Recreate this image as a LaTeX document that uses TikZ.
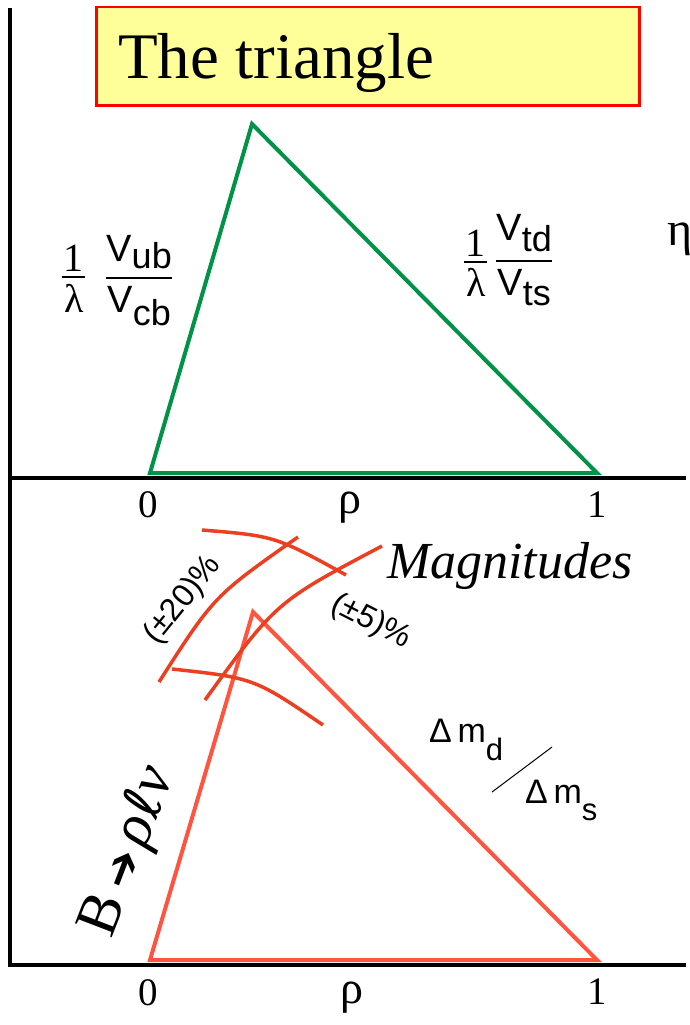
\documentclass[tikz,border=0pt]{standalone}
\usepackage{fontspec}
\setmainfont{Liberation Serif}
\setsansfont{Liberation Sans}
\newfontfamily\symfont{DejaVu Sans}
\definecolor{triGreen}{RGB}{0,146,70}
\definecolor{triRed}{RGB}{255,85,64}
\definecolor{arcRed}{RGB}{236,62,32}
\definecolor{titleYellow}{RGB}{255,255,153}
\newcommand{\fs}[1]{\fontsize{#1}{#1}\selectfont}
\newcommand{\lowsub}[2]{\raisebox{-#1pt}{#2}}
\begin{document}
\begin{tikzpicture}[x=1pt,y=-1pt,
    axis/.style={line width=4.5pt},
    side/.style={line width=4pt, line join=miter},
    band/.style={arcRed, line width=3.5pt},
    ticklbl/.style={font=\fs{39}, inner sep=0pt},
    rholbl/.style={font=\fs{46}, inner sep=0pt},
    fraclbl/.style={font=\fs{40}, inner sep=0pt},
    fracbar/.style={line width=2pt},
    sflbl/.style={font=\sffamily\fs{32}, inner sep=0pt}]
    \useasboundingbox (0,0) rectangle (690,1025);
    % Title box
    \node[draw=red, line width=2.5pt, fill=titleYellow, minimum width=543pt, minimum height=98pt, anchor=north west, inner sep=0pt] (title) at (95,6) {};
    \node[anchor=base west, font=\fs{65}, inner sep=0pt] (titletext) at (118,78) {The triangle};
    % Axes
    \coordinate (yTop) at (10,8);
    \coordinate (yBot) at (10,965);
    \coordinate (xTopL) at (8,478);
    \coordinate (xTopR) at (686,478);
    \coordinate (xBotL) at (8,965);
    \coordinate (xBotR) at (686,965);
    \draw[axis] (yTop) -- (yBot);
    \draw[axis] (xTopL) -- (xTopR);
    \draw[axis] (xBotL) -- (xBotR);
    % Upper triangle
    \coordinate (gO) at (150,473);
    \coordinate (gA) at (252,124);
    \coordinate (gE) at (597,473);
    \draw[side, triGreen] (gO) -- (gA) -- (gE) -- cycle;
    % 1/lambda factors
    \node[fraclbl, anchor=south] (oneL) at (73,272) {1};
    \node[fraclbl, anchor=north] (lamL) at (74,284) {λ};
    \draw[fracbar] (62,277) -- (85,277);
    \node[fraclbl, anchor=south] (oneR) at (475,257) {1};
    \node[fraclbl, anchor=north] (lamR) at (476,268) {λ};
    \draw[fracbar] (464,262) -- (487,262);
    \node[anchor=base west, inner sep=0pt] (vub) at (105,284)
      {\sffamily\fs{38}$\displaystyle{\mbox{V\lowsub{7}{\fs{36}ub}} \above 2.5pt \mbox{V\lowsub{13}{\fs{36}cb}}}$};
    \node[anchor=base west, inner sep=0pt] (vtd) at (495,267)
      {\sffamily\fs{38}$\displaystyle{\mbox{V\lowsub{11}{\fs{36}td}} \above 2.5pt \mbox{V\lowsub{10}{\fs{36}ts}}}$};
    \node[anchor=base west, font=\fs{48}, inner sep=0pt] (eta) at (667,245) {η};
    \node[ticklbl] (zeroTop) at (148,505) {0};
    \node[rholbl] (rhoTop) at (350,508) {ρ};
    \node[ticklbl] (oneTop) at (597,505) {1};
    % Lower triangle
    \coordinate (rO) at (150,960);
    \coordinate (rA) at (253,612);
    \coordinate (rE) at (597,960);
    \draw[side, triRed] (rO) -- (rA) -- (rE) -- cycle;
    % Error bands
    \draw[band] (202,530) .. controls (275,536) .. (346,575);
    \draw[band] (159,682) .. controls (214,596) .. (298,537);
    \draw[band] (205,700) .. controls (276,602) .. (382,546);
    \draw[band] (172,669) .. controls (254,678) .. (323,725);
    \node[sflbl, rotate=51] (pm20) at (183,600) {(±20)\%};
    \node[sflbl, rotate=-27] (pm5) at (371,622) {(±5)\%};
    \node[anchor=base west, font=\itshape\fs{52}, inner sep=0pt] (magn) at (387,578) {Magnitudes};
    \node[anchor=base west, font=\sffamily\fs{34}, inner sep=0pt] (dmd) at (429,742) {Δ\,m\lowsub{18}{\fs{31}d}};
    \node[anchor=base west, font=\sffamily\fs{34}, inner sep=0pt] (dms) at (525,803) {Δ\,m\lowsub{17}{\fs{31}s}};
    \coordinate (slashL) at (492,792);
    \coordinate (slashR) at (552,747);
    \draw[line width=1pt] (slashL) -- (slashR);
    \node[font=\fs{60}, rotate=69, inner sep=0pt] (brho) at (130,852) {\upshape B\hspace{10pt}{\symfont\fs{46}➔}\hspace{8pt}{\itshape ρ}\hspace{2pt}{\symfont\fs{54}ℓ}{\itshape ν}};
    \node[ticklbl] (zeroBot) at (148,993) {0};
    \node[rholbl] (rhoBot) at (352,998) {ρ};
    \node[ticklbl] (oneBot) at (597,992) {1};
\end{tikzpicture}
\end{document}
